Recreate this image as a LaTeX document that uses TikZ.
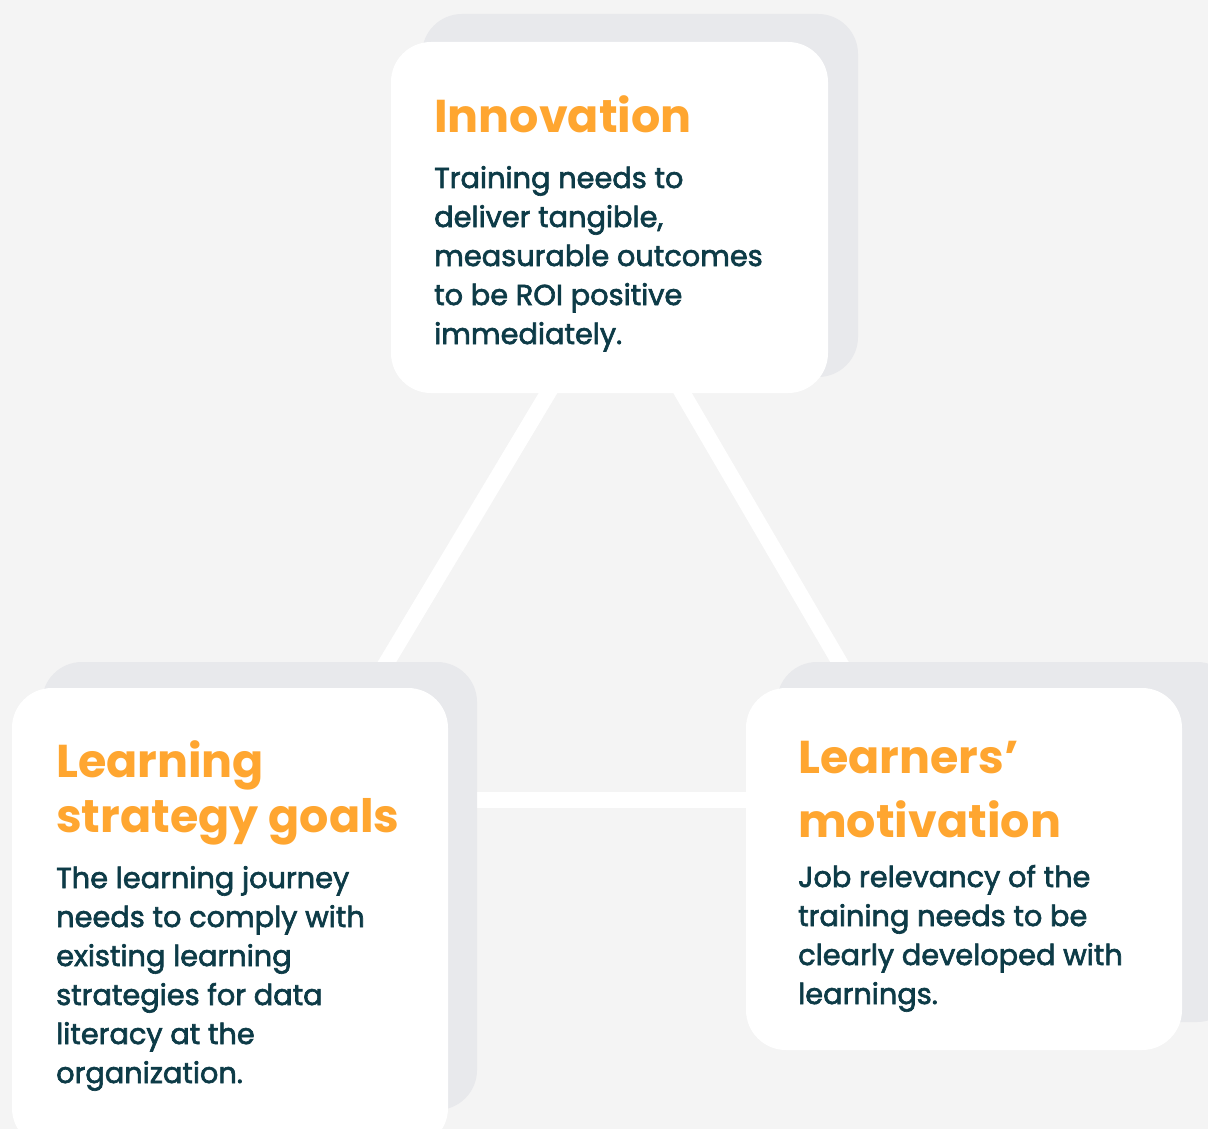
\documentclass[tikz,border=0pt]{standalone}
\usepackage{fontspec}
\setmainfont{Poppins}
\newfontfamily\bodyfont{Poppins}[FakeBold=2.2]
\newfontfamily\titlefont{Poppins Bold}
\definecolor{bg}{HTML}{F4F4F4}
\definecolor{shade}{HTML}{E8E9EC}
\definecolor{orange}{HTML}{FFA630}
\definecolor{teal}{HTML}{0D3B47}
\tikzset{
  card/.style={rectangle, rounded corners=40pt, fill=white, draw=none, inner sep=0pt},
  cardshadow/.style={rectangle, rounded corners=40pt, fill=shade, draw=none, inner sep=0pt},
  link/.style={draw=white, line width=16pt},
  ttl/.style={anchor=base west, inner sep=0pt, text=orange, font=\titlefont\fontsize{46}{50}\selectfont},
  bdy/.style={anchor=base west, inner sep=0pt, text=teal, font=\bodyfont\fontsize{28.8}{39}\selectfont},
}
\begin{document}
\begin{tikzpicture}[x=1pt,y=-1pt]
\useasboundingbox (0,0) rectangle (1208,1129);
\fill[bg] (0,0) rectangle (1208,1129);
\clip (0,0) rectangle (1208,1129);
% connector end points
\coordinate (la) at (566,363);
\coordinate (lb) at (369,692);
\coordinate (ra) at (665,363);
\coordinate (rb) at (857,692);
\coordinate (ha) at (460,800);
\coordinate (hb) at (760,800);
\draw[link] (la) -- (lb);
\draw[link] (ra) -- (rb);
\draw[link] (ha) -- (hb);
% shadows
\node[cardshadow, minimum width=436pt, minimum height=363pt] (ts) at (640,195.5) {};
\node[cardshadow, minimum width=435pt, minimum height=448pt] (ls) at (259.5,886) {};
\node[cardshadow, minimum width=460pt, minimum height=360pt] (rs) at (1007,842) {};
% cards
\node[card, minimum width=437pt, minimum height=351pt] (tc) at (609.5,217.5) {};
\node[card, minimum width=436pt, minimum height=460pt] (lc) at (230,918) {};
\node[card, minimum width=436pt, minimum height=362pt] (rc) at (964,869) {};
% top texts
\node[ttl] (t0) at (434,133) {Innovation};
\node[bdy] (t1) at (434,188) {Training needs to};
\node[bdy] (t2) at (434,227) {deliver tangible,};
\node[bdy] (t3) at (434,266) {measurable outcomes};
\node[bdy] (t4) at (434,305) {to be ROI positive};
\node[bdy] (t5) at (434,344) {immediately.};
% left texts
\node[ttl] (l0) at (56,777) {Learning};
\node[ttl] (l1) at (56,832) {strategy goals};
\node[bdy] (l2) at (56,888) {The learning journey};
\node[bdy] (l3) at (56,927) {needs to comply with};
\node[bdy] (l4) at (56,966) {existing learning};
\node[bdy] (l5) at (56,1005) {strategies for data};
\node[bdy] (l6) at (56,1044) {literacy at the};
\node[bdy] (l7) at (56,1083) {organization.};
% right texts
\node[ttl] (r0) at (798,773) {Learners’};
\node[ttl] (r1) at (798,837) {motivation};
\node[bdy] (r2) at (798,887) {Job relevancy of the};
\node[bdy] (r3) at (798,926) {training needs to be};
\node[bdy] (r4) at (798,965) {clearly developed with};
\node[bdy] (r5) at (798,1004) {learnings.};
\end{tikzpicture}
\end{document}
